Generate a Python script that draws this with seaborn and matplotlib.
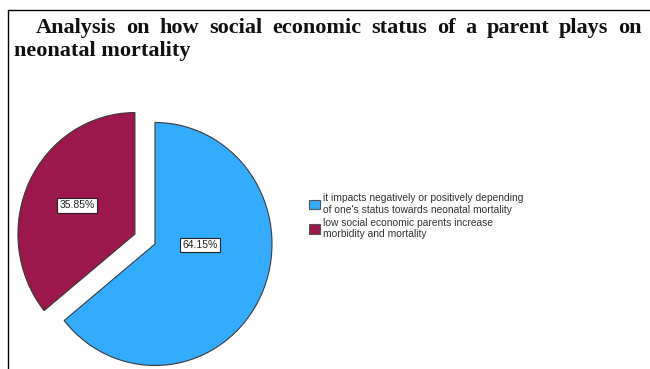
import matplotlib.pyplot as plt
import seaborn as sns
from matplotlib.patches import Patch
from matplotlib.lines import Line2D

# --- Data ---
categories = [
    "it impacts negatively or positively depending\nof one's status towards neonatal mortality",
    "low social economic parents increase\nmorbidity and mortality",
]
percents = [64.15, 35.85]
colors = ["#33acff", "#9c174c"]

title_line1 = "Analysis on how social economic status of a parent plays on"
title_line2 = "neonatal mortality"

sns.set_theme(style="white")
plt.rcParams["font.family"] = ["Liberation Sans", "DejaVu Sans"]

fig = plt.figure(figsize=(6.5, 3.69), dpi=100)
W, H = 650, 369

# pie axes: centre ~ (155, 244) px, radius ~117 x 121 px (slightly stretched)
RX, RY = 117, 121.5
lim = 1.25
cx, cy = 155, H - 244
ax = fig.add_axes([(cx - lim * RX) / W, (cy - lim * RY) / H,
                   2 * lim * RX / W, 2 * lim * RY / H])

wedges, texts, autotexts = ax.pie(
    percents, colors=colors, startangle=90, counterclock=False,
    explode=[0, 0.19], autopct="%.2f%%", pctdistance=0.55,
    wedgeprops=dict(edgecolor="#3a3a3a", linewidth=0.8),
    textprops=dict(fontsize=7.5, color="#222222"),
)
for t in autotexts:
    t.set_bbox(dict(facecolor="white", edgecolor="#222222", linewidth=0.8, pad=1.6))
autotexts[0].set_position((0.385, -0.01))
ax.set_xlim(-lim, lim)
ax.set_ylim(-lim, lim)
ax.set_aspect("auto")
ax.axis("off")

# legend
handles = [Patch(facecolor=c, edgecolor="#555555", linewidth=0.8) for c in colors]
fig.legend(handles, categories, loc="upper left", bbox_to_anchor=(300 / W, 1 - 184 / H),
           frameon=False, fontsize=7.35, handlelength=1.1, handleheight=1.1,
           handletextpad=0.25, labelspacing=0.3, labelcolor="#333333")

# title, first line justified between 36 and 642 px
title_kw = dict(fontsize=16, fontweight="bold", family="Liberation Serif",
                va="baseline", ha="left", color="#111111")
renderer = fig.canvas.get_renderer()
words = title_line1.split()
widths = []
for w in words:
    t = fig.text(0, 0, w, **title_kw)
    widths.append(t.get_window_extent(renderer).width)
    t.remove()
x0, x1 = 36, 642
gap = (x1 - x0 - sum(widths)) / (len(words) - 1)
x = x0
for w, wd in zip(words, widths):
    fig.text(x / W, 1 - 33 / H, w, **title_kw)
    x += wd + gap
fig.text(14 / W, 1 - 56 / H, title_line2, **title_kw)

# frame lines: top and left
fig.add_artist(Line2D([8 / W, 1], [1 - 10 / H, 1 - 10 / H], color="black", linewidth=1.0))
fig.add_artist(Line2D([8 / W, 8 / W], [0, 1 - 10 / H], color="black", linewidth=1.0))

fig.savefig("out.png", dpi=100)
